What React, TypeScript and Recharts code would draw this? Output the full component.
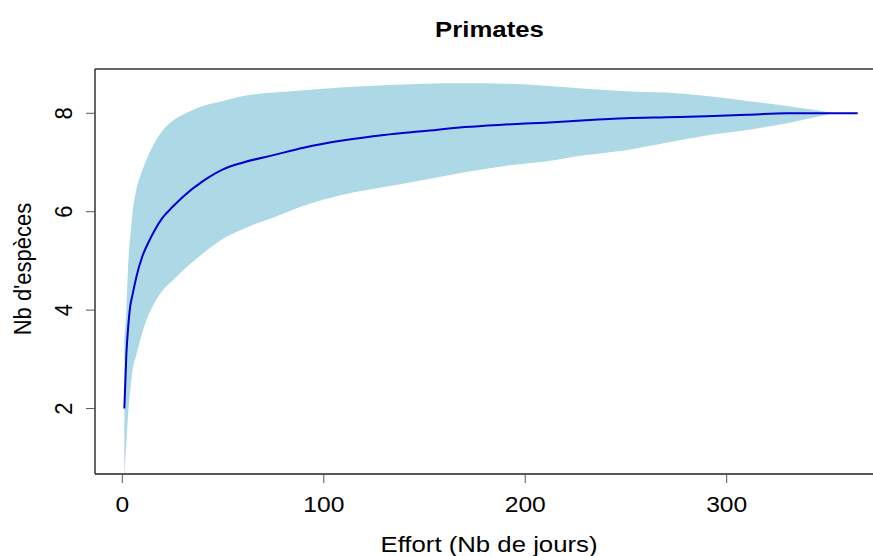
import {
  ComposedChart,
  Area,
  Line,
  XAxis,
  YAxis,
  ReferenceLine,
} from 'recharts';

// effort (days) and rarefied species counts
const effort = [1, 2, 3, 4, 5, 7, 10, 13, 16, 20, 25, 30, 40, 50, 60, 75, 90, 110, 130, 150, 170, 190, 210, 230, 250, 270, 290, 310, 330, 345, 355, 365];
const richness = [2.0, 3.1, 3.7, 4.1, 4.3, 4.68, 5.1, 5.38, 5.62, 5.88, 6.1, 6.3, 6.62, 6.86, 7.0, 7.15, 7.3, 7.45, 7.56, 7.64, 7.72, 7.77, 7.81, 7.86, 7.9, 7.92, 7.94, 7.97, 8.0, 8.0, 8.0, 8.0];
const lowerBound = [0.6, 1.3, 1.95, 2.4, 2.75, 3.1, 3.55, 3.9, 4.15, 4.4, 4.6, 4.8, 5.15, 5.45, 5.65, 5.88, 6.12, 6.35, 6.5, 6.65, 6.8, 6.93, 7.02, 7.15, 7.25, 7.4, 7.55, 7.66, 7.8, 7.93, 8.0, 8.0];
const upperBound = [3.4, 4.0, 5.0, 5.5, 5.95, 6.45, 6.85, 7.15, 7.4, 7.65, 7.85, 7.97, 8.15, 8.25, 8.35, 8.42, 8.47, 8.53, 8.57, 8.6, 8.61, 8.6, 8.56, 8.5, 8.45, 8.42, 8.35, 8.25, 8.15, 8.06, 8.0, 8.0];

const xTicks = [0, 100, 200, 300];
const yTicks = [2, 4, 6, 8];

const data = effort.map((x, i) => ({
  x,
  mean: richness[i],
  band: [lowerBound[i], upperBound[i]],
}));

const FONT = '"Liberation Sans", Arial, sans-serif';
const SX = 1.12; // text in the reference is slightly stretched horizontally

function XTick({ x, y, payload }: any) {
  return (
    <g transform={`translate(${x},${y + 27}) scale(${SX},1)`}>
      <text textAnchor="middle" fontSize={22} fontFamily={FONT} fill="#000">
        {payload.value}
      </text>
    </g>
  );
}

function YTick({ x, y, payload }: any) {
  return (
    <g transform={`translate(${x - 12},${y}) scale(${SX},1) rotate(-90)`}>
      <text textAnchor="middle" fontSize={22} fontFamily={FONT} fill="#000">
        {payload.value}
      </text>
    </g>
  );
}

export default function App() {
  return (
    <div
      style={{
        position: 'absolute',
        left: 0,
        top: 0,
        width: 873,
        height: 556,
        overflow: 'hidden',
        background: '#fff',
      }}
    >
      <ComposedChart
        width={920}
        height={556}
        data={data}
        margin={{ top: 69, right: 33, left: 0, bottom: 0 }}
      >
        <XAxis
          dataKey="x"
          type="number"
          domain={[-13.56, 379.56]}
          ticks={xTicks}
          allowDataOverflow
          height={82}
          tickSize={9}
          tickMargin={2}
          axisLine={{ stroke: '#222', strokeWidth: 1.5 }}
          tickLine={{ stroke: '#555' }}
          tick={<XTick />}
        />
        <YAxis
          type="number"
          domain={[0.67, 8.9]}
          ticks={yTicks}
          allowDataOverflow
          width={95}
          tickSize={9}
          tickMargin={2}
          axisLine={{ stroke: '#333', strokeWidth: 1.5 }}
          tickLine={{ stroke: '#555' }}
          tick={<YTick />}
        />
        <ReferenceLine y={8.9} stroke="#333" strokeWidth={1.5} ifOverflow="extendDomain" />
        <Area
          dataKey="band"
          type="monotone"
          stroke="none"
          fill="#ADD8E6"
          fillOpacity={1}
          isAnimationActive={false}
        />
        <Line
          dataKey="mean"
          type="monotone"
          stroke="#0000CD"
          strokeWidth={2}
          dot={false}
          isAnimationActive={false}
        />
      </ComposedChart>
      <svg
        width={873}
        height={556}
        style={{ position: 'absolute', left: 0, top: 0, pointerEvents: 'none' }}
      >
        <g transform={`translate(489.5,37) scale(${SX},1)`}>
          <text textAnchor="middle" fontSize={23} fontWeight="bold" fontFamily={FONT} fill="#000">
            Primates
          </text>
        </g>
        <g transform={`translate(489,551.5) scale(${SX},1)`}>
          <text textAnchor="middle" fontSize={23} fontFamily={FONT} fill="#000">
            Effort (Nb de jours)
          </text>
        </g>
        <g transform={`translate(31,269) scale(${SX},1) rotate(-90)`}>
          <text textAnchor="middle" fontSize={22} fontFamily={FONT} fill="#000">
            Nb d'espèces
          </text>
        </g>
      </svg>
    </div>
  );
}
